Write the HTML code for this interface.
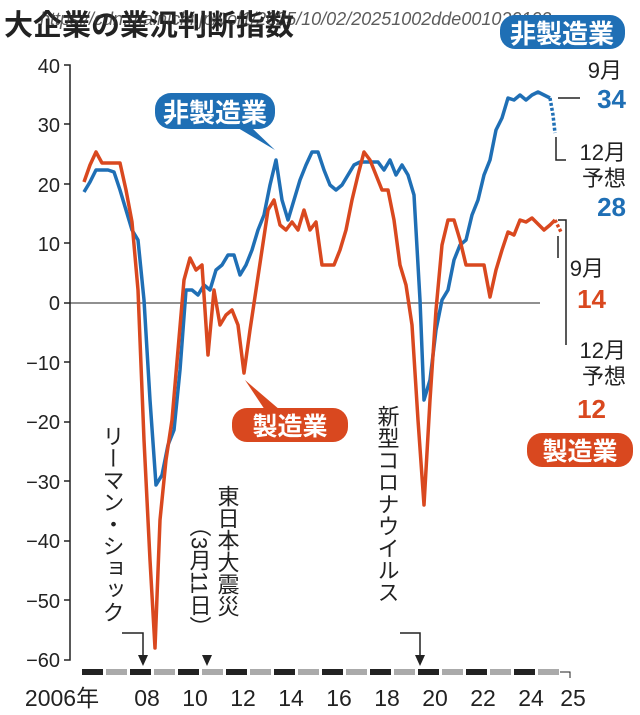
<!DOCTYPE html>
<html><head><meta charset="utf-8"><style>
body{margin:0;background:#fff;width:640px;height:715px;overflow:hidden}
svg{display:block;font-family:"Liberation Sans","Noto Sans CJK JP",sans-serif}
</style></head><body>
<svg width="640" height="715" viewBox="0 0 640 715">
<text x="4" y="35" font-size="29" font-weight="bold" fill="#222">大企業の業況判断指数</text>
<text x="40" y="25" font-size="18" font-style="italic" fill="#333" opacity="0.8">https://cdn.mainichi.jp/vol1/2025/10/02/20251002dde001020102</text>
<rect x="500" y="15" width="125" height="34" rx="15" fill="#1f6fb5"/>
<text x="562" y="43" font-size="26" font-weight="bold" fill="#fff" text-anchor="middle">非製造業</text>
<g font-size="20" fill="#222" text-anchor="end">
<text x="60" y="73">40</text><text x="60" y="132">30</text><text x="60" y="192">20</text><text x="60" y="251">10</text><text x="60" y="310">0</text>
<text x="60" y="370">−10</text><text x="60" y="429">−20</text><text x="60" y="489">−30</text><text x="60" y="548">−40</text><text x="60" y="608">−50</text><text x="60" y="667">−60</text>
</g>
<path d="M64 65H70V660H64 M64 124H70 M64 184H70 M64 243H70 M64 303H70 M64 362H70 M64 422H70 M64 481H70 M64 541H70 M64 600H70" stroke="#222" stroke-width="1.5" fill="none"/>
<line x1="70" y1="303" x2="540" y2="303" stroke="#222" stroke-width="1"/>
<g>
<rect x="82" y="669" width="21" height="6" fill="#222"/><rect x="106" y="669" width="21" height="6" fill="#aaa"/>
<rect x="130" y="669" width="21" height="6" fill="#222"/><rect x="154" y="669" width="21" height="6" fill="#aaa"/>
<rect x="178" y="669" width="21" height="6" fill="#222"/><rect x="202" y="669" width="21" height="6" fill="#aaa"/>
<rect x="226" y="669" width="21" height="6" fill="#222"/><rect x="250" y="669" width="21" height="6" fill="#aaa"/>
<rect x="274" y="669" width="21" height="6" fill="#222"/><rect x="298" y="669" width="21" height="6" fill="#aaa"/>
<rect x="322" y="669" width="21" height="6" fill="#222"/><rect x="346" y="669" width="21" height="6" fill="#aaa"/>
<rect x="370" y="669" width="21" height="6" fill="#222"/><rect x="394" y="669" width="21" height="6" fill="#aaa"/>
<rect x="418" y="669" width="21" height="6" fill="#222"/><rect x="442" y="669" width="21" height="6" fill="#aaa"/>
<rect x="466" y="669" width="21" height="6" fill="#222"/><rect x="490" y="669" width="21" height="6" fill="#aaa"/>
<rect x="514" y="669" width="21" height="6" fill="#222"/><rect x="538" y="669" width="21" height="6" fill="#aaa"/>
<path d="M560 672H570V678" stroke="#222" fill="none"/>
</g>
<g font-size="23" fill="#222" text-anchor="middle">
<text x="62" y="706">2006年</text><text x="147" y="706">08</text><text x="195" y="706">10</text><text x="243" y="706">12</text><text x="291" y="706">14</text><text x="339" y="706">16</text><text x="387" y="706">18</text><text x="435" y="706">20</text><text x="483" y="706">22</text><text x="531" y="706">24</text><text x="573" y="706">25</text>
</g>
<polyline fill="none" stroke="#1f6fb5" stroke-width="3.5" stroke-linejoin="round" points="84,192 90,182 96,170 102,170 108,170 114,172 120,190 126,210 132,230 138,240 144,300 150,400 156,485 162,475 168,445 174,430 180,370 186,290 192,290 198,295 204,285 210,290 216,270 222,265 228,255 234,255 240,275 246,265 252,250 258,230 264,215 270,185 276,160 282,200 288,220 294,200 300,180 306,165 312,152 318,152 324,170 330,185 336,190 342,185 348,175 354,165 360,162 366,162 372,162 378,162 384,170 390,160 396,175 402,165 408,175 414,195 420,300 424,400 430,380 436,330 442,300 448,290 454,260 460,245 466,240 472,215 478,200 484,175 490,160 496,130 502,118 508,98 514,100 520,95 526,100 532,95 538,92 544,95 550,98"/>
<polyline fill="none" stroke="#1f6fb5" stroke-width="3.5" stroke-dasharray="3,2" points="550,98 553,115 555,133"/>
<polyline fill="none" stroke="#d9481f" stroke-width="3.5" stroke-linejoin="round" points="84,182 90,165 96,152 102,163 108,163 114,163 120,163 126,190 132,222 138,290 144,440 150,560 155,648 160,520 166,460 172,420 178,350 184,280 190,258 196,270 202,265 208,355 214,290 220,325 226,315 232,310 238,325 244,373 250,330 256,290 262,250 268,210 274,200 280,225 286,230 292,222 298,230 304,210 310,230 316,222 322,265 328,265 334,265 340,250 346,230 352,200 358,175 364,152 370,160 376,175 382,190 388,190 394,220 400,265 406,285 412,325 418,420 424,505 430,400 436,310 442,245 448,220 454,220 460,240 466,265 472,265 478,265 484,265 490,297 496,270 502,250 508,232 514,235 520,220 526,222 532,218 538,224 544,230 550,225 555,220"/>
<polyline fill="none" stroke="#d9481f" stroke-width="3.5" stroke-dasharray="3,2" points="555,220 558,226 561,232"/>
<path d="M558 98H580 M556 137V160H566 M558 220H566V233 M558 236V258 M566 233V345H566" stroke="#222" stroke-width="1.5" fill="none"/>
<g font-size="22" fill="#222" text-anchor="end">
<text x="622" y="78">9月</text>
<text x="626" y="160">12月</text><text x="626" y="186">予想</text>
<text x="604" y="276">9月</text>
<text x="626" y="358">12月</text><text x="626" y="384">予想</text>
</g>
<g font-size="26" font-weight="bold" text-anchor="end">
<text x="626" y="108" fill="#1f6fb5">34</text><text x="626" y="216" fill="#1f6fb5">28</text>
<text x="606" y="308" fill="#d9481f">14</text><text x="606" y="418" fill="#d9481f">12</text>
</g>
<rect x="155" y="93" width="120" height="36" rx="16" fill="#1f6fb5"/>
<path d="M250 126L275 150L238 128Z" fill="#1f6fb5"/>
<text x="215" y="122" font-size="26" font-weight="bold" fill="#fff" text-anchor="middle">非製造業</text>
<rect x="232" y="408" width="116" height="34" rx="15" fill="#d9481f"/>
<path d="M265 410L245 380L280 410Z" fill="#d9481f"/>
<text x="290" y="435" font-size="25" font-weight="bold" fill="#fff" text-anchor="middle">製造業</text>
<rect x="527" y="433" width="106" height="34" rx="15" fill="#d9481f"/>
<text x="580" y="460" font-size="25" font-weight="bold" fill="#fff" text-anchor="middle">製造業</text>
<g font-size="22" fill="#222" writing-mode="tb">
<text x="112" y="425">リーマン・ショック</text>
<text x="227" y="485">東日本大震災</text>
<text x="199" y="515">（3月11日）</text>
<text x="387" y="405">新型コロナウイルス</text>
</g>
<path d="M122 633H143V658" stroke="#222" stroke-width="1.5" fill="none"/>
<path d="M138 655L148 655L143 666Z M202 655L212 655L207 666Z" fill="#222"/>
<path d="M400 633H420V658" stroke="#222" stroke-width="1.5" fill="none"/>
<path d="M415 655L425 655L420 666Z" fill="#222"/>
</svg>
</body></html>
